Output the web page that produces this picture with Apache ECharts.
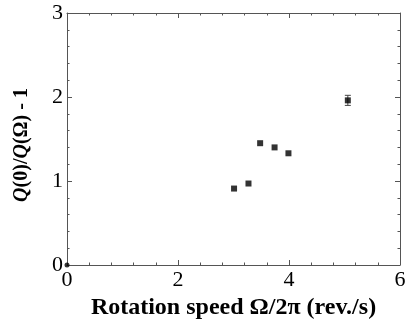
<!DOCTYPE html>
<html>
<head>
<meta charset="utf-8">
<script src="https://cdn.jsdelivr.net/npm/echarts@6/dist/echarts.min.js"></script>
<style>
  html, body { margin: 0; padding: 0; background: #fff; }
  #chart { width: 405px; height: 324px; }
</style>
</head>
<body>
<div id="chart"></div>
<script>
// rotation speed (rev./s) and Q(0)/Q(Ω) - 1
const speeds = [3.01, 3.27, 3.48, 3.74, 3.99, 5.06]
const ratios = [0.91, 0.97, 1.45, 1.40, 1.33, 1.96]
// error bar on the last point only
const errX = [5.06]
const errLow = [1.90]
const errHigh = [2.02]
// origin point
const originPoint = [[0, 0]]

const serif = 'Liberation Serif'
const axisColor = '#555'

const chart = echarts.init(document.getElementById('chart'))

const baseX = {
  type: 'value',
  min: 0,
  max: 6,
  interval: 2,
  axisLine: { show: true, onZero: false, lineStyle: { color: axisColor, width: 1 } },
  axisTick: { show: true, inside: true, length: 5, lineStyle: { color: axisColor } },
  minorTick: { show: true, splitNumber: 5, length: 2.5, lineStyle: { color: axisColor } },
  splitLine: { show: false },
}
const baseY = {
  type: 'value',
  min: 0,
  max: 3,
  interval: 1,
  axisLine: { show: true, onZero: false, lineStyle: { color: axisColor, width: 1 } },
  axisTick: { show: true, inside: true, length: 5, lineStyle: { color: axisColor } },
  minorTick: { show: true, splitNumber: 5, length: 2.5, lineStyle: { color: axisColor } },
  splitLine: { show: false },
}

const option = {
  backgroundColor: '#fff',
  animation: false,
  grid: { left: 67, right: 5, top: 13, bottom: 59, containLabel: false, outerBoundsMode: 'none' },
  xAxis: [
    {
      ...baseX,
      position: 'bottom',
      axisLabel: { color: '#000', fontFamily: serif, fontSize: 22, margin: 4 },
      name: 'Rotation speed Ω/2π (rev./s)',
      nameLocation: 'middle',
      nameGap: 29,
      nameTextStyle: { color: '#000', fontFamily: serif, fontSize: 24, fontWeight: 'bold' },
    },
    { ...baseX, position: 'top', axisLabel: { show: false } },
  ],
  yAxis: [
    {
      ...baseY,
      position: 'left',
      axisLabel: { color: '#000', fontFamily: serif, fontSize: 22, margin: 4 },
      name: '{i|Q}(0)/{i|Q}(Ω) - 1',
      nameLocation: 'middle',
      nameGap: 35,
      nameTextStyle: {
        color: '#000', fontFamily: serif, fontSize: 20, fontWeight: 'bold',
        padding: [0, 12, 0, 0],
        rich: { i: { fontFamily: serif, fontSize: 20, fontWeight: 'bold', fontStyle: 'italic', color: '#000' } },
      },
    },
    { ...baseY, position: 'right', axisLabel: { show: false } },
  ],
  series: [
    {
      type: 'scatter',
      symbol: 'rect',
      symbolSize: 6,
      itemStyle: { color: '#000' },
      data: speeds.map((s, i) => [s, ratios[i]]),
    },
    {
      type: 'scatter',
      symbol: 'circle',
      symbolSize: 5,
      itemStyle: { color: '#000' },
      data: originPoint,
    },
    {
      type: 'custom',
      data: errX.map((x, i) => [x, errLow[i], errHigh[i]]),
      renderItem: (params, api) => {
        const lo = api.coord([api.value(0), api.value(1)])
        const hi = api.coord([api.value(0), api.value(2)])
        const w = 3
        const style = { stroke: '#444', lineWidth: 1 }
        return {
          type: 'group',
          children: [
            { type: 'line', shape: { x1: lo[0], y1: lo[1], x2: hi[0], y2: hi[1] }, style },
            { type: 'line', shape: { x1: lo[0] - w, y1: lo[1], x2: lo[0] + w, y2: lo[1] }, style },
            { type: 'line', shape: { x1: hi[0] - w, y1: hi[1], x2: hi[0] + w, y2: hi[1] }, style },
          ],
        }
      },
      z: 1,
    },
  ],
}

chart.setOption(option)
</script>
</body>
</html>
